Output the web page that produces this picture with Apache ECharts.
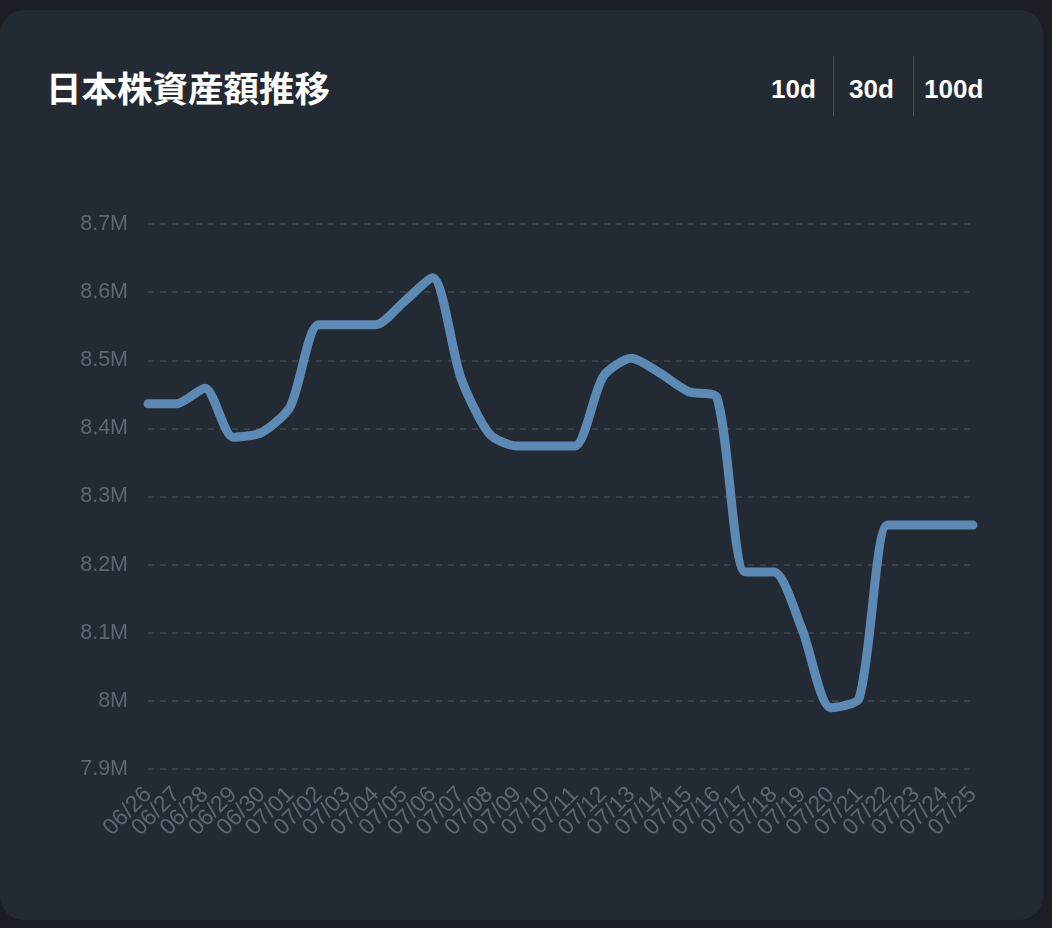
<!DOCTYPE html>
<html><head><meta charset="utf-8">
<script src="https://cdn.jsdelivr.net/npm/echarts@6/dist/echarts.min.js"></script>
<style>
html,body{margin:0;padding:0;width:1052px;height:928px;background:#1b1f25;overflow:hidden;font-family:"Noto Sans CJK JP","Noto Sans",sans-serif;}
#card{position:absolute;left:0px;top:10px;width:1043px;height:910px;background:#242a33;border-radius:24px;}
#title{position:absolute;left:46px;top:62px;color:#fff;font-size:35.5px;font-weight:bold;line-height:50px;white-space:nowrap;}
.btn{position:absolute;top:72px;color:#fff;font-size:26px;font-weight:bold;font-family:"Liberation Sans",Arial,sans-serif;line-height:34px;}
.sep{position:absolute;top:56px;width:1px;height:60px;background:#4a525c;}
#chart{position:absolute;left:0;top:0;width:1052px;height:928px;}
</style></head>
<body>
<div id="card"></div>
<div id="title">日本株資産額推移</div>
<div class="btn" style="left:771px">10d</div>
<div class="sep" style="left:833px"></div>
<div class="btn" style="left:849px">30d</div>
<div class="sep" style="left:913px"></div>
<div class="btn" style="left:924px">100d</div>
<div id="chart"></div>
<script>
const categories = ["06/26","06/27","06/28","06/29","06/30","07/01","07/02","07/03","07/04","07/05","07/06","07/07","07/08","07/09","07/10","07/11","07/12","07/13","07/14","07/15","07/16","07/17","07/18","07/19","07/20","07/21","07/22","07/23","07/24","07/25"];
const values = [8436000,8436000,8459000,8387000,8394000,8432000,8552000,8552000,8552000,8586000,8621000,8474000,8392000,8374000,8374000,8374000,8476000,8503000,8481000,8454000,8445000,8189000,8189000,8104000,7990000,8004000,8258000,8258000,8258000,8258000];
const yMin = 7900000, yMax = 8700000, yStep = 100000;

const chart = echarts.init(document.getElementById('chart'), null, {renderer:'canvas'});
chart.setOption({
  backgroundColor:'transparent',
  animation:false,
  grid:{left:148,right:79,top:224,bottom:159},
  xAxis:{
    type:'category',data:categories,boundaryGap:false,
    axisLine:{show:false},axisTick:{show:false},
    axisLabel:{color:'#5d6773',fontSize:23,rotate:45,interval:0,margin:22,fontFamily:'Liberation Sans'}
  },
  yAxis:{
    type:'value',min:yMin,max:yMax,interval:yStep,
    axisLine:{show:false},axisTick:{show:false},
    axisLabel:{color:'#5d6773',fontSize:21.5,margin:20,fontFamily:'Liberation Sans',
      formatter:v=>(Math.round(v/1e5)/10)+'M'},
    splitLine:{lineStyle:{color:'#414852',type:[6,6],width:1.5}}
  },
  series:[{
    type:'line',data:values,smooth:0.25,symbol:'none',
    lineStyle:{color:'#5d8ab5',width:9,cap:'round',join:'round'}
  }]
});
</script>
</body></html>
